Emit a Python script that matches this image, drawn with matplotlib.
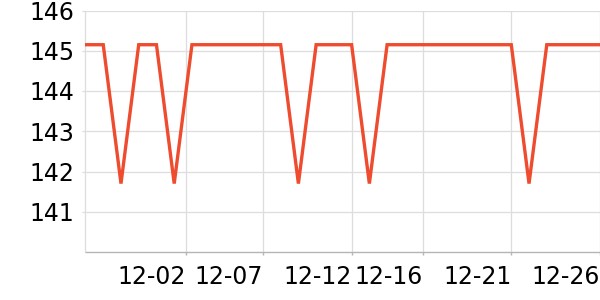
import numpy as np
import pandas as pd
import matplotlib
matplotlib.use("Agg")
import matplotlib.pyplot as plt
import matplotlib.dates as mdates

# daily values, 11-27 .. 12-26
dates = pd.date_range("2023-11-27", periods=30, freq="D")
values = [145.15, 145.15, 141.7, 145.15, 145.15, 141.7,
          145.15, 145.15, 145.15, 145.15, 145.15, 145.15,
          141.7, 145.15, 145.15, 145.15, 141.7,
          145.15, 145.15, 145.15, 145.15, 145.15, 145.15, 145.15, 145.15,
          141.7, 145.15, 145.15, 145.15, 145.15]

tick_dates = pd.to_datetime(["2023-12-02 15:50", "2023-12-07 00:00", "2023-12-12 00:00",
                             "2023-12-16 00:00", "2023-12-21 00:00", "2023-12-26 00:00"])
tick_labels = ["12-02", "12-07", "12-12", "12-16", "12-21", "12-26"]
y_ticks = [141, 142, 143, 144, 145, 146]

fig = plt.figure(figsize=(6, 3), dpi=100)
ax = fig.add_axes([85.5 / 600, 48 / 300, 514.5 / 600, 241.5 / 300])

ax.plot(dates, values, color="#ee4b2f", lw=2.4, solid_joinstyle="miter", zorder=3)

ax.set_xlim(dates[0], dates[-1])
ax.set_ylim(140, 146)

ax.set_xticks(tick_dates)
ax.set_xticklabels(tick_labels, ha="right")
ax.set_yticks(y_ticks)

ax.grid(True, color="#dddddd", lw=0.9)
for s in ["top", "right"]:
    ax.spines[s].set_visible(False)
ax.spines["left"].set_color("#dddddd")
ax.spines["left"].set_linewidth(0.9)
ax.spines["bottom"].set_color("#b5b5b5")
ax.spines["bottom"].set_linewidth(1.0)

ax.tick_params(axis="x", length=2.5, width=1, color="#b5b5b5", labelsize=17, pad=7)
ax.tick_params(axis="y", length=2, width=0.9, color="#dddddd", labelsize=17, pad=6)

fig.savefig("out.png", dpi=100)
